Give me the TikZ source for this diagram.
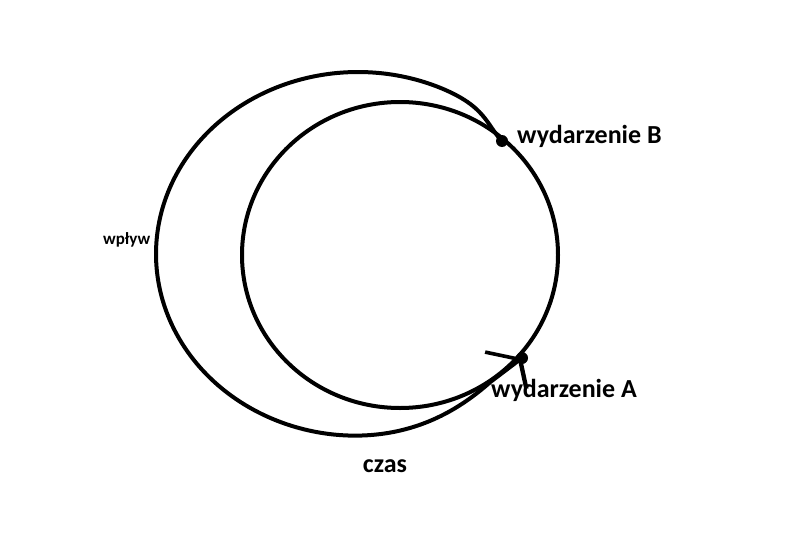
\documentclass[tikz,border=0pt]{standalone}
\usepackage{fontspec}
\setmainfont{Carlito}
\usetikzlibrary{positioning, arrows.meta}
\tikzset{%
	thick/.style = {line width = 4pt},
	>={Straight Barb[length = 18pt, width = 54pt, slant = -0.2]},
	evt/.style = {name = #1, circle, fill, inner sep = 0pt, minimum size = 12pt},
	big/.style = {font = \fontsize{26}{30}\selectfont\bfseries, inner sep = 0pt},
	small/.style = {font = \fontsize{17}{20}\selectfont\bfseries, inner sep = 0pt}
}
\begin{document}
\begin{tikzpicture}[x = 1pt, y = -1pt,
		declare function = {k(\t) = 1 - 0.055*exp(-((\t-41)/10)^2) - 0.04*exp(-((\t-318)/28)^2);}]
			\useasboundingbox (0,0) rectangle (785,538);
			\node [evt = {B}] at (502,141) {};
			\node [evt = {A}] at (522,358) {};
			\node [big, anchor = base west] (labB) at (517,143) {wydarzenie B};
			\node [big, anchor = base west] (labA) at (491,397) {wydarzenie A};
			\node [big, anchor = base] (czas) at (385,472) {czas};
			\node [small, anchor = base west] (wplyw) at (103,244) {wpływ};
			\draw [thick] (400,255) ellipse [x radius = 158, y radius = 153];
			% outer curve, pulled in near B and A
			\draw [thick, ->] plot [domain = 41:313, samples = 120, smooth]
				({358 + 202*cos(\x)*k(\x)}, {254 - 182*sin(\x)*k(\x)}) -- (A.center);
\end{tikzpicture}
\end{document}
